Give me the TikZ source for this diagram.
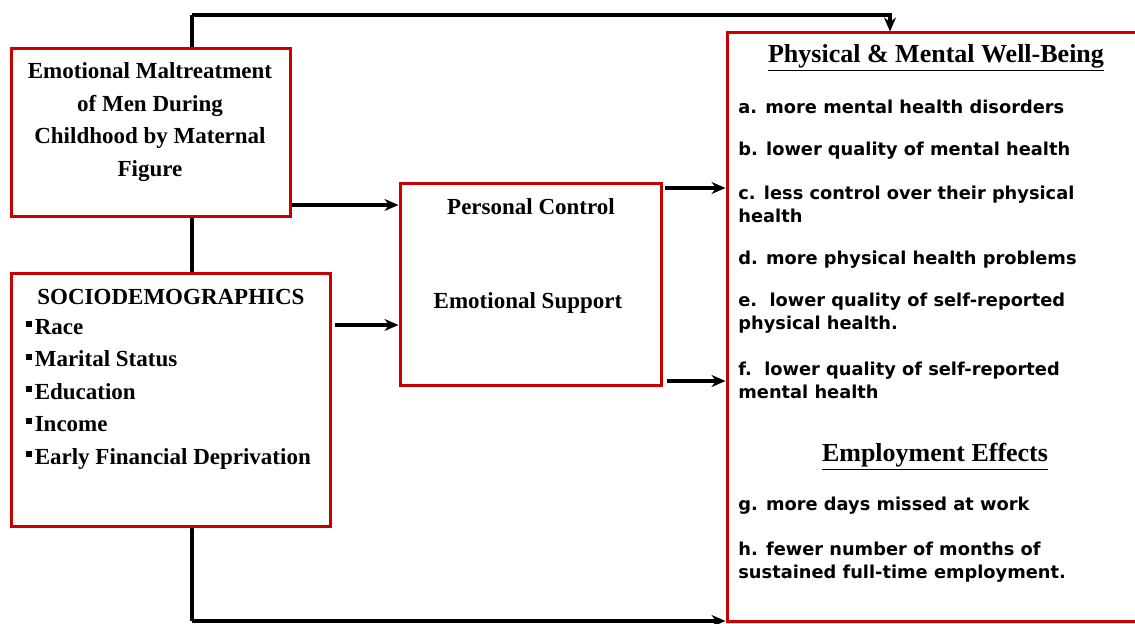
\documentclass[tikz,border=0pt]{standalone}
\usepackage{fontspec}
\setmainfont{Liberation Serif}
\newfontfamily\itemfont{DejaVu Sans}
\usetikzlibrary{arrows.meta}
\definecolor{boxred}{RGB}{200,0,0}
\tikzset{
  redbox/.style={draw=boxred, line width=1.5pt, fill=white, inner sep=0pt},
  link/.style={line width=1.7pt, ->},
  boxtext/.style={font=\bfseries\fontsize{11.5}{16.2}\selectfont, align=center, inner sep=0pt},
  headtext/.style={font=\bfseries\fontsize{13}{16}\selectfont, inner sep=0pt},
  itemtext/.style={font=\itemfont\bfseries\fontsize{8.9}{11.5}\selectfont, align=left, anchor=west, inner sep=0pt}
}
\newcommand{\sqbullet}{\raisebox{3.6pt}{\rule{3pt}{3pt}}\hspace{1.2pt}}

\begin{document}
\begin{tikzpicture}[x=0.5pt, y=-0.5pt, >={Stealth[length=7pt,width=6pt]}]
    \useasboundingbox (0,0) rectangle (1135,624);

    \coordinate (ttop) at (192,15);
    \coordinate (tbot) at (192,621);
    \coordinate (tdrop) at (890,15);
    \draw[line width=1.7pt] (ttop) -- (tbot);

    \node[redbox, minimum width=139.5pt, minimum height=84pt] (mal) at (150.5,133) {};
    \node[redbox, minimum width=159.5pt, minimum height=126.5pt] (socio) at (170.5,400.5) {};
    \node[redbox, minimum width=130.5pt, minimum height=101pt] (med) at (530.5,285) {};
    \node[redbox, minimum width=211.5pt, minimum height=294.5pt] (out) at (938.5,327.5) {};

    \node[boxtext] (maltext) at (150,122)
        {Emotional Maltreatment\\ of Men During\\ Childhood by Maternal\\ Figure};

    \node[boxtext] (sochead) at (171,297) {SOCIODEMOGRAPHICS};
    \node[boxtext, align=left, anchor=north west] (soclist) at (26,319)
        {\sqbullet Race\\ \sqbullet Marital Status\\ \sqbullet Education\\
         \sqbullet Income\\ \sqbullet Early Financial Deprivation};

    \node[boxtext] (pctext) at (531,207) {Personal Control};
    \node[boxtext] (estext) at (528,303) {Emotional Support};

    \node[headtext] (wellhead) at (936,58) {\underline{Physical \& Mental Well-Being}};
    \node[itemtext] (ia) at (738,107) {a. more mental health disorders};
    \node[itemtext] (ib) at (738,151) {b. lower quality of mental health};
    \node[itemtext] (ic) at (738,204.5) {c. less control over their physical\\health};
    \node[itemtext] (id) at (738,260) {d. more physical health problems};
    \node[itemtext] (ie) at (738,313.5) {e.\ \ lower quality of self-reported\\physical health.};
    \node[itemtext] (if) at (738,380.5) {f.\ \ lower quality of self-reported\\mental health};

    \node[headtext] (emphead) at (935,457) {\underline{Employment Effects}};
    \node[itemtext] (ig) at (738,506) {g. more days missed at work};
    \node[itemtext] (ih) at (738,562) {h. fewer number of months of\\sustained full-time employment.};

    \coordinate (y1) at (0,205);
    \coordinate (y2) at (0,325);
    \coordinate (y3) at (0,188);
    \coordinate (y4) at (0,381);

    \draw[link] (mal.east |- y1) -- (med.west |- y1);
    \draw[link] ([xshift=1.5pt]socio.east |- y2) -- (med.west |- y2);
    \draw[link] ([xshift=1pt]med.east |- y3) -- (out.west |- y3);
    \draw[link] ([xshift=2pt]med.east |- y4) -- (out.west |- y4);

    \draw[link] (ttop) -- (tdrop) -- (out.north -| tdrop);
    \draw[link] (tbot) -- (tbot -| out.west);
\end{tikzpicture}
\end{document}
